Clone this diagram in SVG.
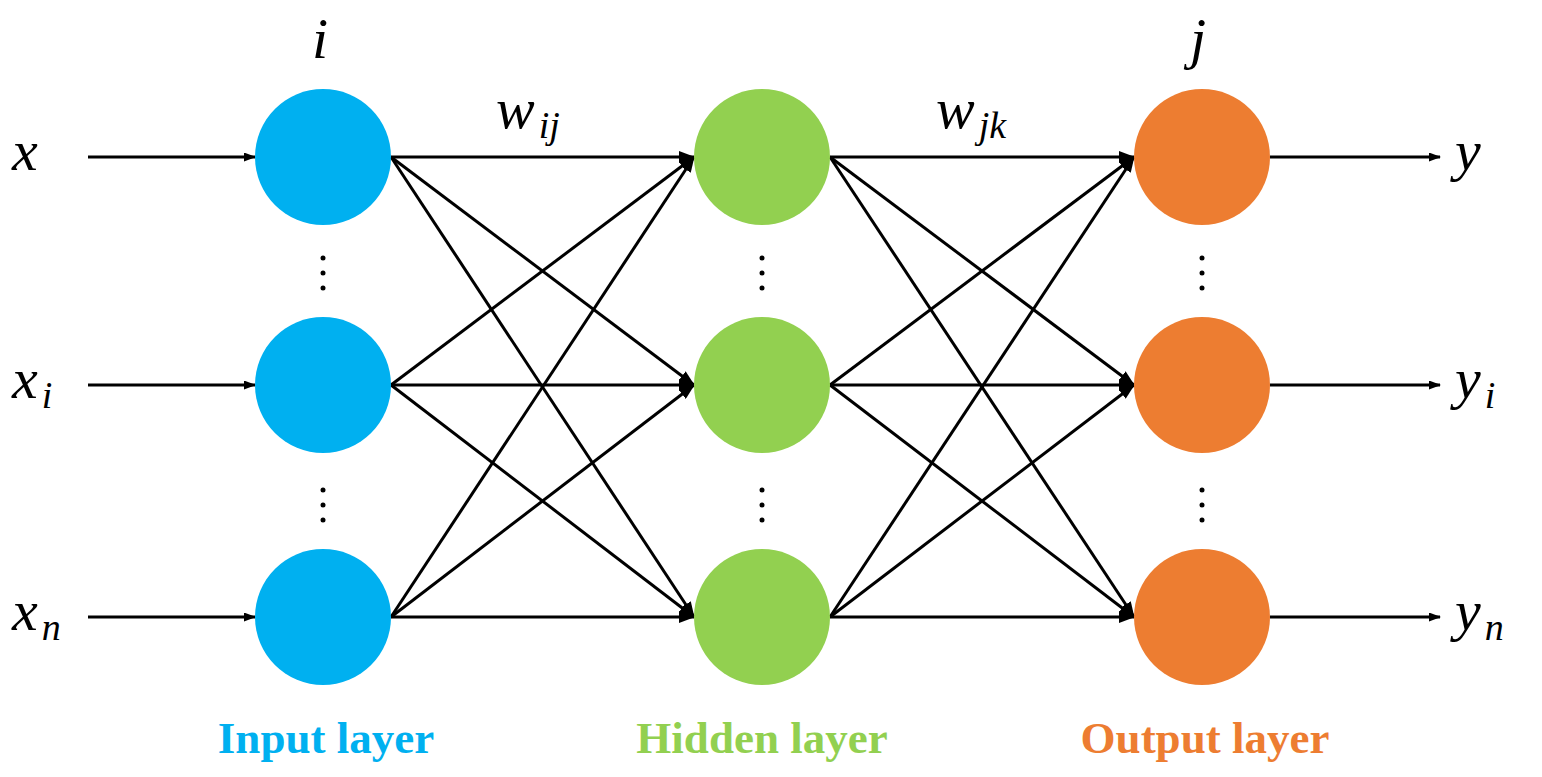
<svg xmlns="http://www.w3.org/2000/svg" width="1542" height="777" viewBox="0 0 1542 777">
<style>
.m{font-family:"Liberation Serif","Times New Roman",serif;font-style:italic;font-size:58px;fill:#000}
.s{font-size:38px}
.l{font-family:"Liberation Serif",serif;font-weight:bold;font-size:45px;text-anchor:middle}
.c line{stroke:#000;stroke-width:3}
</style>
<defs><marker id="a" markerWidth="12" markerHeight="9" refX="11" refY="4.5" orient="auto" markerUnits="userSpaceOnUse" viewBox="0 0 12 9"><path d="M0,0L12,4.5L0,9z"/></marker>
<marker id="b" markerWidth="16" markerHeight="12" refX="15" refY="6" orient="auto" markerUnits="userSpaceOnUse" viewBox="0 0 16 12"><path d="M0,0L16,6L0,12z"/></marker></defs>
<rect width="1542" height="777" fill="#fff"/>
<g class="c" id="connectors">
<line x1="88" y1="157" x2="255" y2="157" marker-end="url(#a)"/><line x1="88" y1="385" x2="255" y2="385" marker-end="url(#a)"/><line x1="88" y1="617" x2="255" y2="617" marker-end="url(#a)"/>
<line x1="391" y1="157" x2="694" y2="157" marker-end="url(#b)"/><line x1="391" y1="157" x2="694" y2="385" marker-end="url(#b)"/><line x1="391" y1="157" x2="694" y2="617" marker-end="url(#b)"/>
<line x1="391" y1="385" x2="694" y2="157" marker-end="url(#b)"/><line x1="391" y1="385" x2="694" y2="385" marker-end="url(#b)"/><line x1="391" y1="385" x2="694" y2="617" marker-end="url(#b)"/>
<line x1="391" y1="617" x2="694" y2="157" marker-end="url(#b)"/><line x1="391" y1="617" x2="694" y2="385" marker-end="url(#b)"/><line x1="391" y1="617" x2="694" y2="617" marker-end="url(#b)"/>
<line x1="830" y1="157" x2="1134" y2="157" marker-end="url(#b)"/><line x1="830" y1="157" x2="1134" y2="385" marker-end="url(#b)"/><line x1="830" y1="157" x2="1134" y2="617" marker-end="url(#b)"/>
<line x1="830" y1="385" x2="1134" y2="157" marker-end="url(#b)"/><line x1="830" y1="385" x2="1134" y2="385" marker-end="url(#b)"/><line x1="830" y1="385" x2="1134" y2="617" marker-end="url(#b)"/>
<line x1="830" y1="617" x2="1134" y2="157" marker-end="url(#b)"/><line x1="830" y1="617" x2="1134" y2="385" marker-end="url(#b)"/><line x1="830" y1="617" x2="1134" y2="617" marker-end="url(#b)"/>
<line x1="1270" y1="157" x2="1440" y2="157" marker-end="url(#a)"/><line x1="1270" y1="385" x2="1440" y2="385" marker-end="url(#a)"/><line x1="1270" y1="617" x2="1440" y2="617" marker-end="url(#a)"/>
</g>
<g id="input" fill="#00B0F0"><circle cx="323" cy="157" r="68"/><circle cx="323" cy="385" r="68"/><circle cx="323" cy="617" r="68"/></g>
<g id="hidden" fill="#92D050"><circle cx="762" cy="157" r="68"/><circle cx="762" cy="385" r="68"/><circle cx="762" cy="617" r="68"/></g>
<g id="output" fill="#ED7D31"><circle cx="1202" cy="157" r="68"/><circle cx="1202" cy="385" r="68"/><circle cx="1202" cy="617" r="68"/></g>
<g id="dots" fill="#000">
<circle cx="323" cy="258" r="2.5"/><circle cx="323" cy="273" r="2.5"/><circle cx="323" cy="288" r="2.5"/>
<circle cx="323" cy="490" r="2.5"/><circle cx="323" cy="505" r="2.5"/><circle cx="323" cy="520" r="2.5"/>
<circle cx="762" cy="258" r="2.5"/><circle cx="762" cy="273" r="2.5"/><circle cx="762" cy="288" r="2.5"/>
<circle cx="762" cy="490" r="2.5"/><circle cx="762" cy="505" r="2.5"/><circle cx="762" cy="520" r="2.5"/>
<circle cx="1202" cy="258" r="2.5"/><circle cx="1202" cy="273" r="2.5"/><circle cx="1202" cy="288" r="2.5"/>
<circle cx="1202" cy="490" r="2.5"/><circle cx="1202" cy="505" r="2.5"/><circle cx="1202" cy="520" r="2.5"/>
</g>
<g id="labels">
<text class="m" x="12" y="170">x</text>
<text class="m" x="12" y="398">x<tspan class="s" dx="4" dy="10">i</tspan></text>
<text class="m" x="12" y="630">x<tspan class="s" dx="4" dy="10">n</tspan></text>
<text class="m" x="1455" y="170">y</text>
<text class="m" x="1455" y="398">y<tspan class="s" dx="4" dy="10">i</tspan></text>
<text class="m" x="1455" y="630">y<tspan class="s" dx="4" dy="10">n</tspan></text>
<text class="m" x="312" y="58">i</text>
<text class="m" x="1190" y="58">j</text>
<text class="m" x="496" y="128">w<tspan class="s" dx="4" dy="10">ij</tspan></text>
<text class="m" x="936" y="128">w<tspan class="s" dx="4" dy="10">jk</tspan></text>
<text class="l" x="326" y="753" fill="#00B0F0">Input layer</text>
<text class="l" x="762" y="753" fill="#92D050">Hidden layer</text>
<text class="l" x="1205" y="753" fill="#ED7D31">Output layer</text>
</g>
</svg>
